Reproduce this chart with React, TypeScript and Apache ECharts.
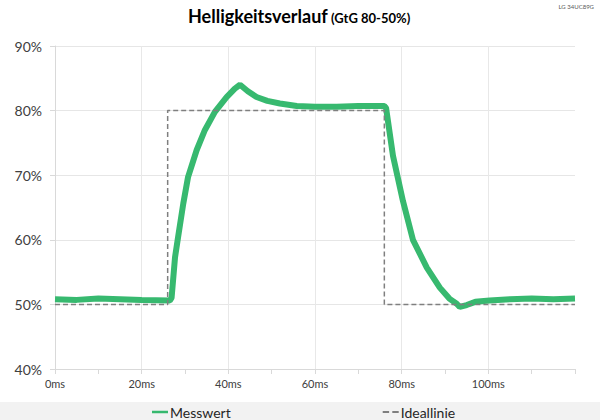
import React, { useEffect, useRef } from "react";
import * as echarts from "echarts";

const measuredTimes = [0, 5, 10, 15, 20, 26.5, 26.9, 27.7, 28.4, 29.6, 30.7, 32.7, 34.6, 36.9, 39.6, 41.5, 42.7, 44.5, 46.5, 49, 51.9, 55.8, 60, 65, 70, 76.0, 76.4, 78.0, 80.3, 82.6, 85.8, 88.8, 91, 92.7, 93.4, 95, 97, 100.3, 105, 110, 115, 120];
const measuredValues = [50.8, 50.7, 50.9, 50.8, 50.7, 50.6, 51.0, 57.3, 60.4, 65.6, 69.7, 73.9, 77.0, 79.8, 82.1, 83.4, 84.0, 83.0, 82.1, 81.5, 81.1, 80.7, 80.6, 80.6, 80.7, 80.7, 80.4, 73.0, 66.0, 60.0, 55.7, 52.6, 50.9, 50.1, 49.6, 49.9, 50.4, 50.6, 50.8, 50.9, 50.8, 50.9];
const idealTimes = [0, 26, 26, 76, 76, 120];
const idealValues = [50, 50, 80, 80, 50, 50];
const yTicks = [40, 50, 60, 70, 80, 90];
const xLabelValues = [0, 20, 40, 60, 80, 100];

const FONT = "Lato";
const GREEN = "#37b96f";
const GREY = "#7f7f7f";

export default function App() {
  const ref = useRef<HTMLDivElement>(null);
  useEffect(() => {
    if (!ref.current) return;
    const chart = echarts.init(ref.current, undefined, { renderer: "svg" });
    chart.setOption({
      animation: false,
      backgroundColor: "#ffffff",
      graphic: [
        { type: "rect", left: 0, top: 402, shape: { width: 600, height: 18 }, style: { fill: "#f2f2f2" }, z: -1 },
        { type: "text", x: 188, y: 25, style: { text: "Helligkeitsverlauf", font: `bold 18px ${FONT}`, fill: "#000", textVerticalAlign: "bottom" } },
        { type: "text", x: 331, y: 24, style: { text: "(GtG 80-50%)", font: `bold 13px ${FONT}`, fill: "#000", textVerticalAlign: "bottom" } },
        { type: "text", x: 594, y: 6, style: { text: "LG 34UC89G", font: `6px ${FONT}`, fill: "#595959", textAlign: "right", textVerticalAlign: "middle" } },
      ],
      legend: {
        left: 152,
        top: 405,
        padding: 0,
        itemGap: 152,
        itemWidth: 16,
        itemHeight: 2.5,
        textStyle: { fontFamily: FONT, fontSize: 14, lineHeight: 14, color: "#262626", padding: [0, 0, 0, -3] },
        data: [
          { name: "Messwert", icon: "path://M0,0H16V2.5H0Z", itemStyle: { color: GREEN } },
          { name: "Ideallinie", icon: "path://M0,0H6V2H0Z M9,0H15V2H9Z", itemStyle: { color: GREY } },
        ],
      },
      grid: { left: 55, right: 25, top: 46, bottom: 51 },
      xAxis: {
        type: "value",
        min: 0,
        max: 120,
        interval: 20,
        axisLine: { show: true, lineStyle: { color: "#d9d9d9" } },
        axisTick: { show: true, length: 5, lineStyle: { color: "#d9d9d9" } },
        minorTick: { show: true, splitNumber: 2, length: 5, lineStyle: { color: "#d9d9d9" } },
        axisLabel: {
          fontFamily: FONT,
          fontSize: 11,
          color: "#404040",
          margin: 9,
          formatter: (v: number) => (xLabelValues.includes(v) ? `${v}ms` : ""),
        },
        splitLine: { show: true, showMaxLine: false, lineStyle: { color: "#e8e8e8" } },
      },
      yAxis: {
        type: "value",
        min: 40,
        max: 90,
        interval: 10,
        axisLine: { show: true, lineStyle: { color: "#d9d9d9" } },
        axisTick: { show: true, length: 5, lineStyle: { color: "#d9d9d9" } },
        axisLabel: {
          fontFamily: FONT,
          fontSize: 14,
          color: "#404040",
          margin: 13,
          formatter: (v: number) => (yTicks.includes(v) ? `${v}%` : ""),
        },
        splitLine: { show: true, lineStyle: { color: "#e6e6e6" } },
      },
      series: [
        {
          name: "Messwert",
          type: "line",
          symbol: "none",
          data: measuredTimes.map((t, i) => [t, measuredValues[i]]),
          lineStyle: { color: GREEN, width: 6 },
          itemStyle: { color: GREEN },
          z: 2,
        },
        {
          name: "Ideallinie",
          type: "line",
          symbol: "none",
          data: idealTimes.map((t, i) => [t, idealValues[i]]),
          lineStyle: { color: GREY, width: 1.5, type: [5, 3] },
          itemStyle: { color: GREY },
          z: 3,
        },
      ],
    });
    return () => chart.dispose();
  }, []);
  return <div ref={ref} style={{ position: "absolute", left: 0, top: 0, width: 600, height: 420 }} />;
}
